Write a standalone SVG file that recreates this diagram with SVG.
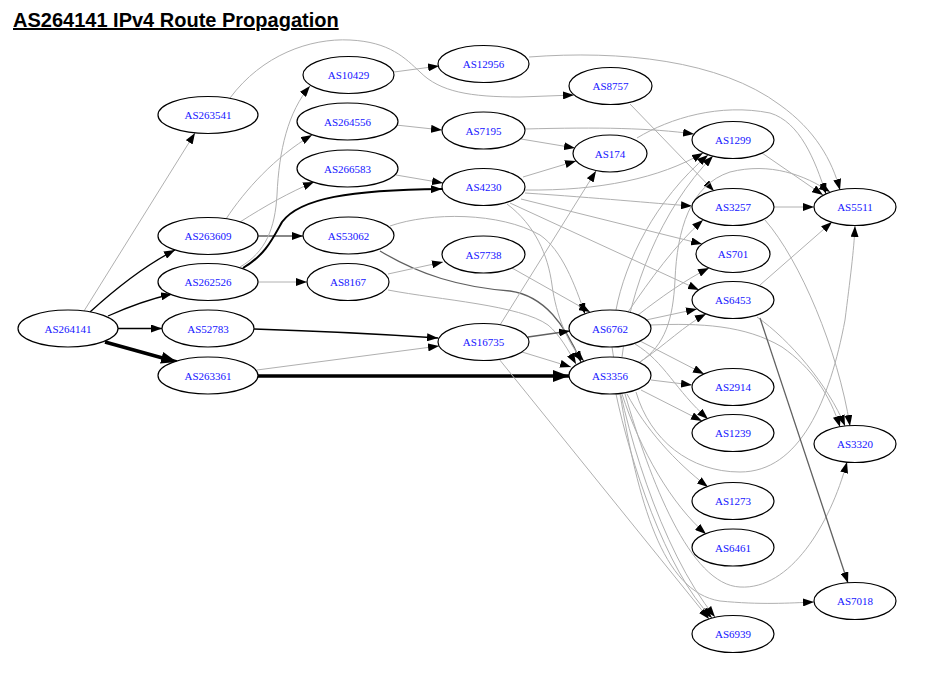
<svg xmlns="http://www.w3.org/2000/svg" width="942" height="686" viewBox="0 0 942 686">
<style>
.n ellipse{fill:#fff;stroke:#000;stroke-width:1.2}
.n text{font-family:"Liberation Serif","Times New Roman",serif;font-size:11px;fill:#1414ff;text-anchor:middle}
.e path{fill:none}
.g{stroke:#b0b0b0;stroke-width:1;marker-end:url(#ah)}
.d{stroke:#606060;stroke-width:1.3;marker-end:url(#ah)}
.k{stroke:#000;stroke-width:1.3;marker-end:url(#ah)}
.k2{stroke:#000;stroke-width:2;marker-end:url(#ah)}
.t{stroke:#000;stroke-width:3.5;marker-end:url(#ahb)}
.title{font-family:"Liberation Sans",Arial,sans-serif;font-size:20px;font-weight:bold;text-decoration:underline}
</style>
<defs>
<marker id="ah" viewBox="0 0 11 8" refX="11" refY="4" markerWidth="11" markerHeight="8" orient="auto" markerUnits="userSpaceOnUse"><path d="M0,0 L11,4 L0,8 z" fill="#000"/></marker>
<marker id="ahb" viewBox="0 0 16 12" refX="16" refY="6" markerWidth="16" markerHeight="12" orient="auto" markerUnits="userSpaceOnUse"><path d="M0,0 L16,6 L0,12 z" fill="#000"/></marker>
</defs>
<rect width="942" height="686" fill="#fff"/>
<text class="title" x="13" y="27">AS264141 IPv4 Route Propagation</text>
<g id="edges" class="e">
<path class="g" d="M84,311 L195,133"/>
<path class="k" d="M90,312 C112,292 140,268 175,250"/>
<path class="k" d="M108,316 C128,307 150,299 172,294"/>
<path class="k" d="M118,328.5 L162,328.5"/>
<path class="t" d="M105,342 L177,362"/>
<path class="g" d="M230,98 C262,55 310,38 350,40 C390,42 405,58 420,72 C440,92 470,97 520,97 L574,95"/>
<path class="g" d="M226,219 C245,190 275,157 312,135"/>
<path class="g" d="M240,222 C265,206 290,192 314,182"/>
<path class="d" d="M258,236 L303,236"/>
<path class="g" d="M240,267 C266,252 275,228 277,195 C279,150 288,112 310,86"/>
<path class="k2" d="M243,268 C265,255 272,240 282,222 C300,198 350,190 442,189"/>
<path class="g" d="M258,282 L307,282"/>
<path class="k" d="M254,329 C320,331 380,334 438,338"/>
<path class="g" d="M257,370 L439,346"/>
<path class="t" d="M258,376 L569,376"/>
<path class="g" d="M394,72 L439,66"/>
<path class="g" d="M396,125 L442,130"/>
<path class="g" d="M396,175 L443,183"/>
<path class="d" d="M380,251 C420,275 460,287 510,291 C545,296 565,325 581,362"/>
<path class="g" d="M390,226 C430,212 500,212 540,235 C562,250 575,285 585,314"/>
<path class="g" d="M388,274 L443,262"/>
<path class="g" d="M388,290 C440,300 520,305 548,325 C560,335 568,350 576,364"/>
<path class="g" d="M529,57 C620,50 720,60 780,105 C815,130 832,160 840,190"/>
<path class="g" d="M630,104 L714,191"/>
<path class="g" d="M525,129 C600,127 650,128 694,134"/>
<path class="g" d="M521,139 L575,148"/>
<path class="g" d="M523,177 L576,161"/>
<path class="g" d="M525,190 C600,191 660,178 703,153"/>
<path class="g" d="M525,193 C600,198 650,203 692,206"/>
<path class="g" d="M521,199 L702,244"/>
<path class="g" d="M510,203 L699,290"/>
<path class="g" d="M507,204 C535,225 548,255 552,285 C556,315 568,345 584,361"/>
<path class="g" d="M512,268 L590,312"/>
<path class="d" d="M528,337 L570,331"/>
<path class="g" d="M522,352 L571,367"/>
<path class="g" d="M500,325 L596,171"/>
<path class="g" d="M499,359 L709,619"/>
<path class="g" d="M637,138 C670,118 720,103 770,113 C800,122 815,160 826,194"/>
<path class="g" d="M762,153 L823,195"/>
<path class="g" d="M774,207 L814,207"/>
<path class="g" d="M760,285 L832,222"/>
<path class="g" d="M616,310 C625,262 655,200 708,155"/>
<path class="g" d="M622,357 C630,290 660,210 713,156"/>
<path class="g" d="M640,362 C665,345 673,320 675,280 C677,230 690,185 730,172 C770,162 805,175 830,192"/>
<path class="g" d="M628,312 C650,280 675,245 703,220"/>
<path class="g" d="M638,315 C660,298 685,280 709,268"/>
<path class="g" d="M646,320 L697,309"/>
<path class="g" d="M640,362 C665,345 685,325 706,314"/>
<path class="g" d="M651,325 C700,323 745,325 782,347 C812,368 830,395 840,427"/>
<path class="g" d="M640,341 L704,374"/>
<path class="g" d="M635,344 C665,362 675,390 708,419"/>
<path class="g" d="M651,380 L692,385"/>
<path class="g" d="M641,390 L702,421"/>
<path class="g" d="M627,394 C645,428 675,462 708,487"/>
<path class="g" d="M622,394 C640,450 672,505 706,534"/>
<path class="g" d="M616,394 C630,460 665,570 712,618"/>
<path class="g" d="M612,347 C622,420 660,550 715,617"/>
<path class="g" d="M636,392 C650,440 690,472 740,472 C800,472 830,400 845,320 C850,280 854,250 855,226"/>
<path class="g" d="M625,394 C650,480 690,585 740,587 C790,590 830,525 847,462"/>
<path class="g" d="M620,394 C638,500 662,592 720,601 C760,605 790,603 814,602"/>
<path class="g" d="M765,220 C800,260 838,350 850,426"/>
<path class="g" d="M757,317 C790,340 828,385 845,426"/>
<path class="d" d="M760,318 L848,583"/>
</g>
<g id="AS264141" class="n"><ellipse cx="68" cy="328.5" rx="50" ry="18.5"/><text x="68" y="332.5">AS264141</text></g>
<g id="AS263541" class="n"><ellipse cx="208" cy="115" rx="50" ry="18.5"/><text x="208" y="119">AS263541</text></g>
<g id="AS263609" class="n"><ellipse cx="208" cy="236" rx="50" ry="18.5"/><text x="208" y="240">AS263609</text></g>
<g id="AS262526" class="n"><ellipse cx="208" cy="282" rx="50" ry="18.5"/><text x="208" y="286">AS262526</text></g>
<g id="AS52783" class="n"><ellipse cx="208" cy="328.5" rx="46" ry="18.5"/><text x="208" y="332.5">AS52783</text></g>
<g id="AS263361" class="n"><ellipse cx="208" cy="375.5" rx="50" ry="18.5"/><text x="208" y="379.5">AS263361</text></g>
<g id="AS10429" class="n"><ellipse cx="348.5" cy="75" rx="45.5" ry="18.5"/><text x="348.5" y="79">AS10429</text></g>
<g id="AS264556" class="n"><ellipse cx="347.5" cy="121.5" rx="50.5" ry="18.5"/><text x="347.5" y="125.5">AS264556</text></g>
<g id="AS266583" class="n"><ellipse cx="347.5" cy="168.5" rx="50.5" ry="18.5"/><text x="347.5" y="172.5">AS266583</text></g>
<g id="AS53062" class="n"><ellipse cx="348.5" cy="235.5" rx="45.5" ry="18.5"/><text x="348.5" y="239.5">AS53062</text></g>
<g id="AS8167" class="n"><ellipse cx="348" cy="282" rx="41" ry="18.5"/><text x="348" y="286">AS8167</text></g>
<g id="AS12956" class="n"><ellipse cx="483.5" cy="64" rx="45.5" ry="18.5"/><text x="483.5" y="68">AS12956</text></g>
<g id="AS7195" class="n"><ellipse cx="483.5" cy="130.5" rx="41.5" ry="18.5"/><text x="483.5" y="134.5">AS7195</text></g>
<g id="AS4230" class="n"><ellipse cx="483.5" cy="187" rx="41.5" ry="18.5"/><text x="483.5" y="191">AS4230</text></g>
<g id="AS7738" class="n"><ellipse cx="483.5" cy="254.5" rx="41.5" ry="18.5"/><text x="483.5" y="258.5">AS7738</text></g>
<g id="AS16735" class="n"><ellipse cx="483.5" cy="342" rx="45.5" ry="18.5"/><text x="483.5" y="346">AS16735</text></g>
<g id="AS8757" class="n"><ellipse cx="610.5" cy="86" rx="41.5" ry="18.5"/><text x="610.5" y="90">AS8757</text></g>
<g id="AS174" class="n"><ellipse cx="610" cy="153.5" rx="37" ry="18.5"/><text x="610" y="157.5">AS174</text></g>
<g id="AS6762" class="n"><ellipse cx="610" cy="328.5" rx="41" ry="18.5"/><text x="610" y="332.5">AS6762</text></g>
<g id="AS3356" class="n"><ellipse cx="610" cy="375.5" rx="41" ry="18.5"/><text x="610" y="379.5">AS3356</text></g>
<g id="AS1299" class="n"><ellipse cx="733" cy="140" rx="41" ry="18.5"/><text x="733" y="144">AS1299</text></g>
<g id="AS3257" class="n"><ellipse cx="733" cy="207" rx="41" ry="18.5"/><text x="733" y="211">AS3257</text></g>
<g id="AS701" class="n"><ellipse cx="733" cy="254" rx="37" ry="18.5"/><text x="733" y="258">AS701</text></g>
<g id="AS6453" class="n"><ellipse cx="733" cy="300" rx="41" ry="18.5"/><text x="733" y="304">AS6453</text></g>
<g id="AS2914" class="n"><ellipse cx="733" cy="387" rx="41" ry="18.5"/><text x="733" y="391">AS2914</text></g>
<g id="AS1239" class="n"><ellipse cx="733" cy="433" rx="41" ry="18.5"/><text x="733" y="437">AS1239</text></g>
<g id="AS1273" class="n"><ellipse cx="733" cy="501" rx="41" ry="18.5"/><text x="733" y="505">AS1273</text></g>
<g id="AS6461" class="n"><ellipse cx="733" cy="547.5" rx="41" ry="18.5"/><text x="733" y="551.5">AS6461</text></g>
<g id="AS6939" class="n"><ellipse cx="733" cy="634" rx="41" ry="18.5"/><text x="733" y="638">AS6939</text></g>
<g id="AS5511" class="n"><ellipse cx="855" cy="207" rx="41" ry="18.5"/><text x="855" y="211">AS5511</text></g>
<g id="AS3320" class="n"><ellipse cx="855" cy="444" rx="41" ry="18.5"/><text x="855" y="448">AS3320</text></g>
<g id="AS7018" class="n"><ellipse cx="855" cy="601" rx="41" ry="18.5"/><text x="855" y="605">AS7018</text></g>
</svg>
